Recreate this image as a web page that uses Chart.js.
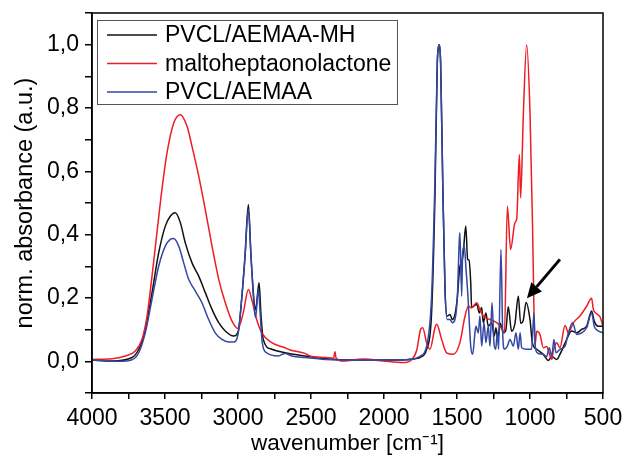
<!DOCTYPE html>
<html>
<head>
<meta charset="utf-8">
<script src="https://cdn.jsdelivr.net/npm/chart.js@4"></script>
<style>
  html, body { margin: 0; padding: 0; background: #fff; }
  canvas { display: block; }
</style>
</head>
<body>
<canvas id="ftirChart" width="624" height="461"></canvas>
<script>
// series labels
const seriesNames = ['PVCL/AEMAA-MH', 'maltoheptaonolactone', 'PVCL/AEMAA'];

// PVCL/AEMAA-MH (black)
const mhWn = [4000, 3863, 3726, 3680, 3635, 3589, 3543, 3498, 3464, 3430, 3395, 3361, 3315, 3269, 3224, 3178, 3132, 3087, 3030, 2998,
  2975, 2952, 2929, 2911, 2888, 2879, 2856, 2842, 2827, 2769, 2678, 2541, 2400, 2200, 2000, 1850, 1790, 1754, 1708, 1674,
  1651, 1635, 1628, 1623, 1618, 1612, 1598, 1582, 1567, 1548, 1532, 1514, 1498, 1480, 1468, 1457, 1440, 1427, 1418, 1406,
  1400, 1384, 1365, 1347, 1331, 1320, 1302, 1286, 1262, 1245, 1233, 1221, 1205, 1180, 1165, 1149, 1126, 1103, 1080, 1064,
  1046, 1027, 1000, 984, 954, 909, 874, 851, 817, 795, 749, 715, 680, 646, 612, 578, 560, 533, 500];
const mhAbs = [0.004, 0.001, 0.012, 0.038, 0.101, 0.217, 0.343, 0.427, 0.458, 0.469, 0.438, 0.374, 0.311, 0.269, 0.217, 0.164, 0.122, 0.096, 0.080, 0.095,
  0.196, 0.332, 0.495, 0.332, 0.180, 0.164, 0.248, 0.143, 0.069, 0.038, 0.027, 0.017, 0.008, 0.004, 0.004, 0.005, 0.008, 0.012, 0.038, 0.153,
  0.521, 0.942, 0.990, 1.000, 0.990, 0.940, 0.574, 0.227, 0.143, 0.148, 0.132, 0.148, 0.200, 0.300, 0.311, 0.343, 0.427, 0.322, 0.320, 0.248,
  0.170, 0.175, 0.180, 0.153, 0.170, 0.122, 0.153, 0.111, 0.122, 0.080, 0.106, 0.069, 0.120, 0.090, 0.100, 0.172, 0.095, 0.120, 0.206, 0.120,
  0.130, 0.186, 0.132, 0.059, 0.038, 0.022, 0.003, 0.015, 0.006, 0.022, 0.069, 0.096, 0.090, 0.101, 0.111, 0.159, 0.127, 0.111, 0.111];

// maltoheptaonolactone (red)
const mlWn = [4000, 3863, 3772, 3703, 3658, 3623, 3589, 3555, 3521, 3486, 3440, 3395, 3349, 3315, 3269, 3224, 3178, 3132, 3087, 3041,
  3000, 2964, 2929, 2906, 2872, 2838, 2769, 2678, 2644, 2541, 2507, 2400, 2345, 2336, 2328, 2279, 2142, 2007, 1868, 1810,
  1776, 1749, 1735, 1708, 1685, 1651, 1639, 1605, 1571, 1526, 1480, 1445, 1422, 1400, 1365, 1343, 1320, 1274, 1228, 1205,
  1175, 1155, 1133, 1103, 1091, 1073, 1064, 1046, 1023, 1000, 982, 973, 966, 954, 932, 909, 886, 863, 851, 840,
  817, 795, 760, 737, 703, 658, 612, 578, 566, 543, 520, 500];
const mlAbs = [0.006, 0.008, 0.017, 0.033, 0.069, 0.143, 0.269, 0.407, 0.543, 0.659, 0.753, 0.779, 0.742, 0.679, 0.585, 0.479, 0.364, 0.259, 0.185, 0.127,
  0.104, 0.153, 0.227, 0.196, 0.132, 0.091, 0.059, 0.043, 0.036, 0.025, 0.017, 0.012, 0.010, 0.030, 0.010, 0.001, 0.007, 0.001, -0.004, 0.005,
  0.035, 0.101, 0.106, 0.059, 0.038, 0.106, 0.117, 0.069, 0.027, 0.022, 0.059, 0.143, 0.174, 0.169, 0.185, 0.164, 0.143, 0.132, 0.122, 0.111,
  0.090, 0.490, 0.353, 0.438, 0.450, 0.653, 0.516, 0.774, 1.000, 0.785, 0.416, 0.164, 0.050, 0.095, 0.085, 0.043, 0.047, 0.017, 0.006, 0.035,
  0.059, 0.043, 0.113, 0.090, 0.122, 0.143, 0.174, 0.199, 0.164, 0.150, 0.140, 0.111];

// PVCL/AEMAA (blue)
const pvWn = [4000, 3818, 3726, 3680, 3635, 3589, 3543, 3498, 3464, 3441, 3406, 3372, 3338, 3292, 3247, 3201, 3156, 3110, 3064, 3030,
  3000, 2975, 2952, 2929, 2911, 2888, 2879, 2861, 2847, 2834, 2804, 2724, 2678, 2632, 2541, 2400, 2200, 2000, 1850, 1790,
  1754, 1708, 1674, 1651, 1635, 1628, 1623, 1618, 1612, 1598, 1582, 1567, 1548, 1532, 1514, 1498, 1484, 1480, 1468, 1462,
  1450, 1438, 1425, 1406, 1393, 1377, 1370, 1354, 1343, 1331, 1315, 1302, 1286, 1274, 1260, 1247, 1235, 1224, 1215, 1199,
  1187, 1176, 1155, 1137, 1114, 1096, 1080, 1068, 1057, 1023, 989, 973, 964, 950, 909, 886, 868, 851, 836, 822,
  795, 760, 737, 708, 680, 646, 612, 578, 560, 533, 500];
const pvAbs = [0.004, 0.000, 0.005, 0.027, 0.090, 0.196, 0.301, 0.364, 0.385, 0.388, 0.364, 0.311, 0.259, 0.222, 0.185, 0.132, 0.090, 0.069, 0.061, 0.061,
  0.085, 0.196, 0.332, 0.480, 0.332, 0.164, 0.138, 0.227, 0.143, 0.059, 0.027, 0.017, 0.025, 0.017, 0.012, 0.006, 0.004, 0.004, 0.005, 0.008,
  0.016, 0.048, 0.206, 0.574, 0.942, 0.990, 1.000, 0.990, 0.940, 0.574, 0.222, 0.132, 0.132, 0.122, 0.132, 0.200, 0.385, 0.406, 0.206, 0.332,
  0.364, 0.290, 0.206, 0.048, 0.022, 0.090, 0.111, 0.090, 0.143, 0.048, 0.122, 0.059, 0.111, 0.048, 0.185, 0.059, 0.038, 0.090, 0.038, 0.353,
  0.090, 0.038, 0.048, 0.069, 0.048, 0.090, 0.038, 0.090, 0.043, 0.038, 0.038, 0.153, 0.048, 0.027, 0.022, 0.015, 0.043, 0.015, 0.069, 0.027,
  0.038, 0.048, 0.090, 0.122, 0.085, 0.090, 0.106, 0.153, 0.111, 0.096, 0.090];

// arrow pointing at the new band (wavenumber, absorbance)
const arrowFrom = [795, 0.322];
const arrowTo = [1021, 0.199];

const FONT = "'Liberation Sans', Arial, sans-serif";

function toPoints(wn, abs) {
    return wn.map((w, i) => ({ x: w, y: abs[i] }));
}

// box around the plot, legend inside it and the arrow
const framePlugin = {
    id: 'frame',
    afterDraw(chart) {
        const ctx = chart.ctx;
        const area = chart.chartArea;
        const xs = chart.scales.x;
        const ys = chart.scales.y;
        ctx.save();

        // frame
        ctx.strokeStyle = '#000';
        ctx.lineWidth = 1.5;
        ctx.strokeRect(area.left, area.top, area.right - area.left, area.bottom - area.top);

        // arrow
        const x1 = xs.getPixelForValue(arrowFrom[0]), y1 = ys.getPixelForValue(arrowFrom[1]);
        const x2 = xs.getPixelForValue(arrowTo[0]), y2 = ys.getPixelForValue(arrowTo[1]);
        const ang = Math.atan2(y2 - y1, x2 - x1);
        const headLen = 15, headW = 7;
        const bx = x2 - headLen * Math.cos(ang), by = y2 - headLen * Math.sin(ang);
        ctx.lineWidth = 3;
        ctx.beginPath();
        ctx.moveTo(x1, y1);
        ctx.lineTo(bx, by);
        ctx.stroke();
        ctx.fillStyle = '#000';
        ctx.beginPath();
        ctx.moveTo(x2, y2);
        ctx.lineTo(bx + headW * Math.sin(ang), by - headW * Math.cos(ang));
        ctx.lineTo(bx - headW * Math.sin(ang), by + headW * Math.cos(ang));
        ctx.closePath();
        ctx.fill();

        // legend
        const lx = area.left + 5, ly = area.top + 7, lw = 300, lh = 84;
        ctx.fillStyle = '#fff';
        ctx.fillRect(lx, ly, lw, lh);
        ctx.strokeStyle = '#555';
        ctx.lineWidth = 1;
        ctx.strokeRect(lx + 0.5, ly + 0.5, lw, lh);
        ctx.font = '23px ' + FONT;
        ctx.textBaseline = 'middle';
        ctx.textAlign = 'left';
        chart.data.datasets.forEach((ds, i) => {
            const yy = ly + 15 + i * 28.5;
            ctx.strokeStyle = ds.borderColor;
            ctx.lineWidth = 1.5;
            ctx.beginPath();
            ctx.moveTo(lx + 10, yy);
            ctx.lineTo(lx + 60, yy);
            ctx.stroke();
            ctx.fillStyle = '#000';
            ctx.fillText(ds.label, lx + 68, yy + 1);
        });
        ctx.restore();
    }
};

const ctx = document.getElementById('ftirChart').getContext('2d');
const ftirChart = new Chart(ctx, {
    type: 'line',
    data: {
        datasets: [
            {
                label: seriesNames[0],
                data: toPoints(mhWn, mhAbs),
                borderColor: '#111111',
                order: 2
            },
            {
                label: seriesNames[1],
                data: toPoints(mlWn, mlAbs),
                borderColor: '#ee1c24',
                order: 1
            },
            {
                label: seriesNames[2],
                data: toPoints(pvWn, pvAbs),
                borderColor: '#3347a5',
                order: 0
            }
        ]
    },
    options: {
        responsive: false,
        animation: false,
        layout: {
            padding: { top: 13, right: 21, left: 0, bottom: 0 }
        },
        elements: {
            point: { radius: 0 },
            line: { borderWidth: 1.5, cubicInterpolationMode: 'monotone', fill: false }
        },
        scales: {
            x: {
                type: 'linear',
                reverse: true,
                min: 500,
                max: 4000,
                afterFit: (scale) => {
                    scale.height = 68;
                    scale.paddingLeft = 0;
                    scale.paddingRight = 0;
                },
                border: { color: '#000', width: 1.5 },
                grid: {
                    drawOnChartArea: false,
                    color: '#000',
                    lineWidth: 1.5,
                    tickLength: 6
                },
                ticks: {
                    stepSize: 250,
                    autoSkip: false,
                    maxRotation: 0,
                    padding: 6,
                    color: '#000',
                    font: { size: 23, family: FONT },
                    callback: function(value) {
                        return value % 500 === 0 ? String(value) : '';
                    }
                },
                title: {
                    display: true,
                    text: 'wavenumber [cm⁻¹]',
                    color: '#000',
                    font: { size: 22.5, family: FONT },
                    padding: { top: 0, bottom: 4 }
                }
            },
            y: {
                min: -0.1,
                max: 1.1,
                afterFit: (scale) => {
                    scale.width = 92;
                    scale.paddingTop = 0;
                    scale.paddingBottom = 0;
                },
                border: { color: '#000', width: 1.5 },
                grid: {
                    drawOnChartArea: false,
                    color: '#000',
                    lineWidth: 1.5,
                    tickLength: 7
                },
                ticks: {
                    stepSize: 0.1,
                    autoSkip: false,
                    padding: 6,
                    color: '#000',
                    font: { size: 23, family: FONT },
                    callback: function(value) {
                        const v = Math.round(value * 10);
                        if (v < 0 || v % 2 !== 0) return '';
                        return (v / 10).toFixed(1).replace('.', ',');
                    }
                },
                title: {
                    display: true,
                    text: 'norm. absorbance (a.u.)',
                    color: '#000',
                    font: { size: 23.5, family: FONT },
                    padding: { top: 11, bottom: 0 }
                }
            }
        },
        plugins: {
            legend: { display: false },
            tooltip: { enabled: false }
        }
    },
    plugins: [framePlugin]
});
</script>
</body>
</html>
